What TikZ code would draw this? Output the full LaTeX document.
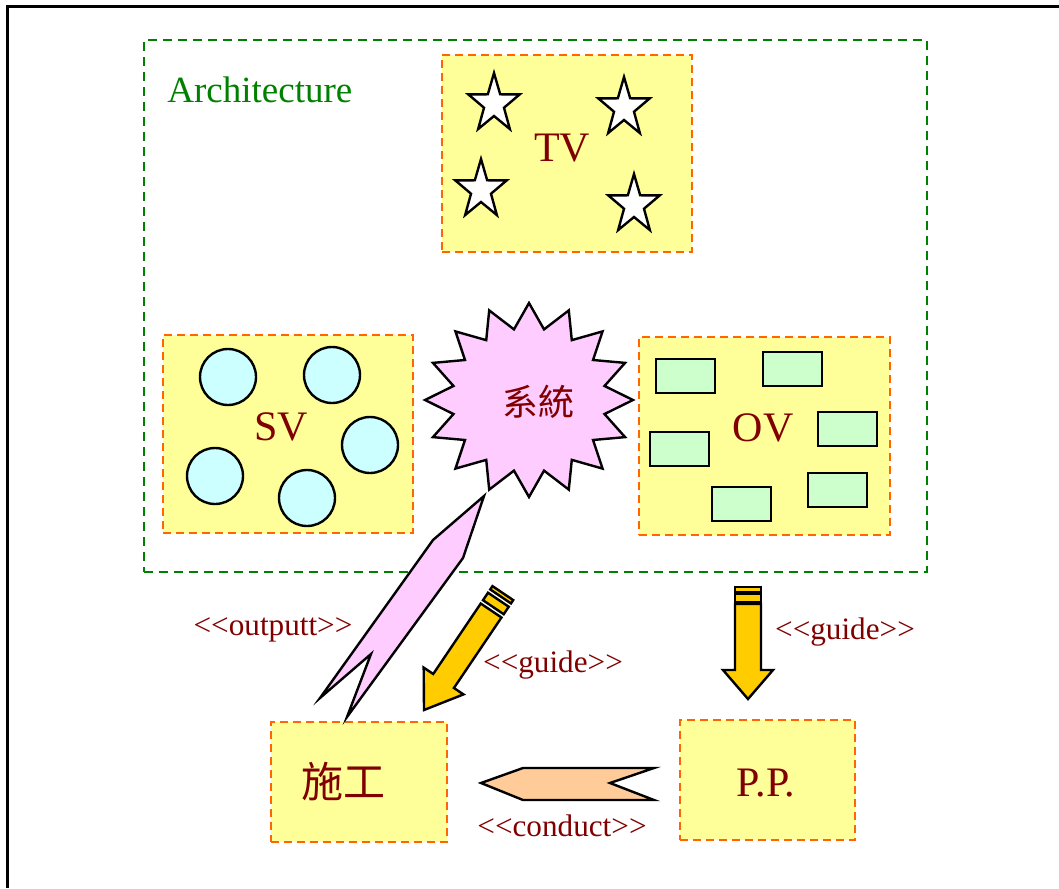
\documentclass[tikz,border=0pt]{standalone}
\usepackage{fontspec}
\setmainfont{Liberation Serif}
\newfontfamily\cjk{Noto Sans CJK TC}
\usetikzlibrary{positioning,calc}
\definecolor{viewfill}{RGB}{255,255,153}
\definecolor{viewedge}{RGB}{255,102,0}
\definecolor{archgreen}{RGB}{0,128,0}
\definecolor{labelred}{RGB}{128,0,0}
\definecolor{svcyan}{RGB}{204,255,255}
\definecolor{ovgreen}{RGB}{204,255,204}
\definecolor{burstpink}{RGB}{255,204,255}
\definecolor{guidegold}{RGB}{255,204,0}
\definecolor{conductpeach}{RGB}{255,204,153}

\begin{document}
\begin{tikzpicture}[x=0.5pt, y=0.5pt, yscale=-1,
    viewbox/.style={draw=viewedge, fill=viewfill, line width=1.3pt, dash pattern=on 4pt off 2.5pt, inner sep=0pt},
    archbox/.style={draw=archgreen, line width=1pt, dash pattern=on 4.5pt off 3pt, inner sep=0pt},
    viewname/.style={text=labelred, inner sep=0pt, font=\fontsize{21}{24}\selectfont},
    tag/.style={text=labelred, inner sep=0pt, font=\fontsize{15.6}{17}\selectfont},
    shapeline/.style={draw=black, line width=1.2pt, line join=miter}]
    \useasboundingbox (0,0) rectangle (1059,888);
    % --- frame ---
    \draw[line width=1.5pt] (7,888) -- (7,7) -- (1059,7);

    % --- Architecture ---
    \node[archbox, minimum width=391.5pt, minimum height=266pt] (arch) at (535.5,306) {};
    \node[anchor=west, inner sep=0pt, text=archgreen, font=\fontsize{18.5}{20}\selectfont] (archname) at (167,90) {Architecture};

    % --- TV with stars ---
    \node[viewbox, minimum width=125pt, minimum height=98.5pt] (tv) at (567,153.5) {};
    \foreach \cx/\cy in {494/104, 624/108, 481/190, 634/205}
        \draw[shapeline, fill=white] (\cx,\cy) +(270:27 and 31)
            \foreach \a in {0,72,...,288}{ -- +(306+\a:10.5 and 12) -- +(342+\a:27 and 31)} -- cycle;
    \node[viewname] (tvname) at (562,148) {TV};

    % --- SV with circles ---
    \node[viewbox, minimum width=125pt, minimum height=99pt] (sv) at (288,434) {};
    \foreach \cx/\cy in {228/377, 332/375, 370/445, 215/476, 307/498}
        \draw[shapeline, fill=svcyan] (\cx,\cy) circle[radius=28];
    \node[viewname] (svname) at (281,427) {SV};

    % --- OV with rectangles ---
    \node[viewbox, minimum width=125.5pt, minimum height=99pt] (ov) at (764.5,436) {};
    \foreach \xa/\ya in {656/359, 763/352, 818/412, 650/432, 712/487, 808/473}
        \draw[shapeline, fill=ovgreen] (\xa,\ya) rectangle ++(59,34);
    \node[viewname] (ovname) at (763,428) {OV};

    % --- system burst ---
    \draw[shapeline, fill=burstpink] (529,400) +(270:104 and 97)
        \foreach \a in {0,22.5,...,337.5}{ -- +(281.25+\a:77 and 72) -- +(292.5+\a:104 and 97)} -- cycle;
    \node[text=labelred, inner sep=0pt, font=\cjk\fontsize{18}{20}\selectfont] (sys) at (538,402) {系統};

    % --- bottom views ---
    \node[viewbox, minimum width=88pt, minimum height=60pt] (build) at (359,782) {};
    \node[text=labelred, inner sep=0pt, font=\cjk\fontsize{21}{24}\selectfont] (buildname) at (343,782) {施工};
    \node[viewbox, minimum width=87.5pt, minimum height=60pt] (pp) at (767.5,780) {};
    \node[viewname] (ppname) at (766,783) {P.P.};

    % --- outputt arrow ---
    \draw[shapeline, fill=burstpink] (484,496) -- (463,558) -- (347,717) -- (371,654) -- (320,698) -- (433,540) -- cycle;
    \node[tag] (outputt) at (273,630) {<{}<outputt>{}>};

    % --- guide arrow (left) ---
    \begin{scope}[shift={(424,710)}, rotate=-56]
        \draw[shapeline, fill=guidegold] (0,0) -- (35,24) -- (35,12.5) -- (120,12.5) -- (120,-12.5) -- (35,-12.5) -- (35,-24) -- cycle;
        \draw[shapeline, fill=guidegold] (124,-12.5) rectangle (133,12.5);
        \draw[shapeline, fill=guidegold] (137,-12.5) rectangle (141,12.5);
    \end{scope}
    \node[tag] (guideleft) at (553,665) {<{}<guide>{}>};

    % --- guide arrow (right) ---
    \begin{scope}[shift={(748,699)}, rotate=-90]
        \draw[shapeline, fill=guidegold] (0,0) -- (29,25) -- (29,13) -- (95,13) -- (95,-13) -- (29,-13) -- (29,-25) -- cycle;
        \draw[shapeline, fill=guidegold] (97,-13) rectangle (105,13);
        \draw[shapeline, fill=guidegold] (107,-13) rectangle (112,13);
    \end{scope}
    \node[tag] (guideright) at (845,632) {<{}<guide>{}>};

    % --- conduct arrow ---
    \draw[shapeline, fill=conductpeach] (481,783) -- (523,768) -- (654,768) -- (610,783) -- (654,800) -- (523,800) -- cycle;
    \node[tag] (conduct) at (562,826) {<{}<conduct>{}>};
\end{tikzpicture}
\end{document}
